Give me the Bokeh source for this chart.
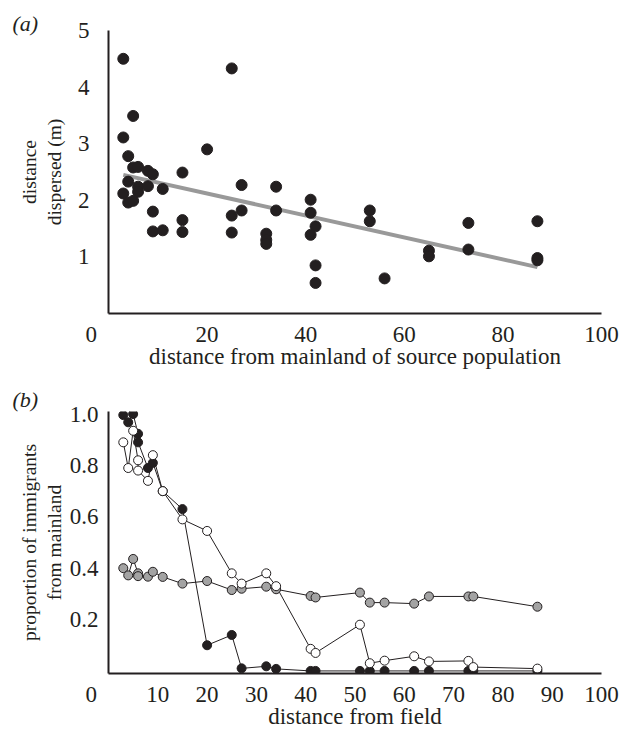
from bokeh.plotting import figure
from bokeh.layouts import column
from bokeh.models import FixedTicker, NumeralTickFormatter
from bokeh.embed import file_html
from bokeh.resources import INLINE

FONT = "Liberation Serif"
INK = "#231f20"
NB = "\u00a0"

# ---------- panel (a) data ----------
mainland_dist = [3, 25, 5, 3, 20, 4, 5, 6, 8, 9, 15, 4, 3, 6, 6, 8, 11, 4, 5, 27,
                 34, 41, 9, 15, 25, 27, 34, 41, 42, 9, 11, 15, 25, 32, 32, 32, 41, 42, 42, 53,
                 53, 56, 65, 65, 73, 73, 87, 87, 87]
dispersed = [4.50, 4.33, 3.49, 3.11, 2.90, 2.78, 2.58, 2.59, 2.52, 2.46, 2.49, 2.33, 2.12, 2.24, 2.15, 2.25, 2.20, 1.96, 1.99, 2.27,
             2.24, 2.01, 1.80, 1.65, 1.73, 1.82, 1.82, 1.78, 1.54, 1.45, 1.47, 1.44, 1.43, 1.41, 1.30, 1.23, 1.39, 0.85, 0.54, 1.82,
             1.63, 0.62, 1.11, 1.01, 1.60, 1.13, 1.63, 0.98, 0.94]
trend_x = [3, 87]
trend_y = [2.45, 0.82]
a_xticks = [0, 20, 40, 60, 80, 100]
a_yticks = [1, 2, 3, 4, 5]

# ---------- panel (b) data ----------
field_dist = [3, 4, 5, 6, 6, 8, 9, 11, 15, 20, 25, 27, 32, 34, 41, 42, 51, 53, 56, 62, 65, 73, 74, 87]
prop_black = [0.996, 0.968, 1.0, 0.923, 0.89, 0.79, 0.81, 0.70, 0.63, 0.10, 0.14, 0.01, 0.018, 0.008,
              0.0, 0.0, 0.0, 0.0, 0.0, 0.0, 0.0, 0.0, 0.0, 0.0]
prop_white = [0.89, 0.79, 0.935, 0.82, 0.78, 0.74, 0.84, 0.70, 0.59, 0.545, 0.38, 0.34, 0.38, 0.33,
              0.086, 0.07, 0.18, 0.03, 0.04, 0.057, 0.037, 0.039, 0.015, 0.009]
prop_gray = [0.40, 0.372, 0.436, 0.38, 0.369, 0.367, 0.386, 0.366, 0.34, 0.35, 0.315, 0.32, 0.328, 0.318,
             0.292, 0.286, 0.305, 0.266, 0.266, 0.262, 0.29, 0.29, 0.29, 0.25]
b_xticks = [0, 10, 20, 30, 40, 50, 60, 70, 80, 90, 100]
b_yticks = [0.2, 0.4, 0.6, 0.8, 1.0]


def style(p, xt, yt, ylab_standoff, ytick_standoff, xlab_standoff, tag, tag_standoff):
    p.outline_line_color = None
    p.xgrid.visible = False
    p.ygrid.visible = False
    p.xaxis.ticker = FixedTicker(ticks=xt)
    p.yaxis.ticker = FixedTicker(ticks=yt)
    # the origin "0" sits left of the axis corner in the reference
    p.xaxis.major_label_overrides = {0: "0" + NB * 6}
    for ax in (p.xaxis[0], p.yaxis[0]):
        ax.axis_line_width = 2
        ax.axis_line_color = INK
        ax.major_tick_line_color = None
        ax.minor_tick_line_color = None
        ax.major_label_text_font = FONT
        ax.major_label_text_font_size = "23px"
        ax.major_label_text_color = INK
        ax.axis_label_text_font = FONT
        ax.axis_label_text_font_style = "normal"
        ax.axis_label_text_color = INK
    p.xaxis.major_label_standoff = 2
    p.xaxis.axis_label_text_font_size = "23px"
    p.xaxis.axis_label_standoff = xlab_standoff
    p.yaxis.major_label_standoff = ytick_standoff
    p.yaxis.axis_label_text_font_size = "19.5px"
    p.yaxis.axis_label_standoff = ylab_standoff
    p.title.text = tag
    p.title.align = "left"
    p.title.offset = -96
    p.title.standoff = tag_standoff
    p.title.text_font = FONT
    p.title.text_font_style = "italic"
    p.title.text_font_size = "22px"
    p.title.text_color = INK


# ---------- figure (a) ----------
pa = figure(width=620, height=371, x_range=(0, 100), y_range=(0, 5),
            output_backend="svg", toolbar_location=None,
            min_border_left=108, min_border_right=19, min_border_top=30, min_border_bottom=58)
pa.xaxis.axis_label = "distance from mainland of source population"
pa.yaxis.axis_label = "distance\ndispersed (m)"
style(pa, a_xticks, a_yticks, 10, 13, -6, "(a)", -10)
pa.line(trend_x, trend_y, line_width=4, color="#999999")
pa.scatter(mainland_dist, dispersed, size=11, color=INK)

# ---------- figure (b) ----------
pb = figure(width=620, height=360, x_range=(0, 100), y_range=(-0.01, 1.01),
            output_backend="svg", toolbar_location=None,
            min_border_left=108, min_border_right=19, min_border_top=40, min_border_bottom=58)
pb.xaxis.axis_label = "distance from field"
pb.yaxis.axis_label = "proportion of immigrants\nfrom mainland"
pb.yaxis.formatter = NumeralTickFormatter(format="0.0")
style(pb, b_xticks, b_yticks, 2, 4, -6, "(b)", 0)
pb.line(field_dist, prop_black, line_width=1, color=INK)
pb.line(field_dist, prop_gray, line_width=1, color=INK)
pb.line(field_dist, prop_white, line_width=1, color=INK)
pb.scatter(field_dist, prop_black, size=9, fill_color=INK, line_color=INK, line_width=1)
pb.scatter(field_dist, prop_gray, size=9, fill_color="#a3a3a3", line_color=INK, line_width=1)
pb.scatter(field_dist, prop_white, size=9, fill_color="white", line_color=INK, line_width=1)

layout = column(pa, pb, spacing=0)
open("out.html", "w").write(file_html(layout, INLINE))
